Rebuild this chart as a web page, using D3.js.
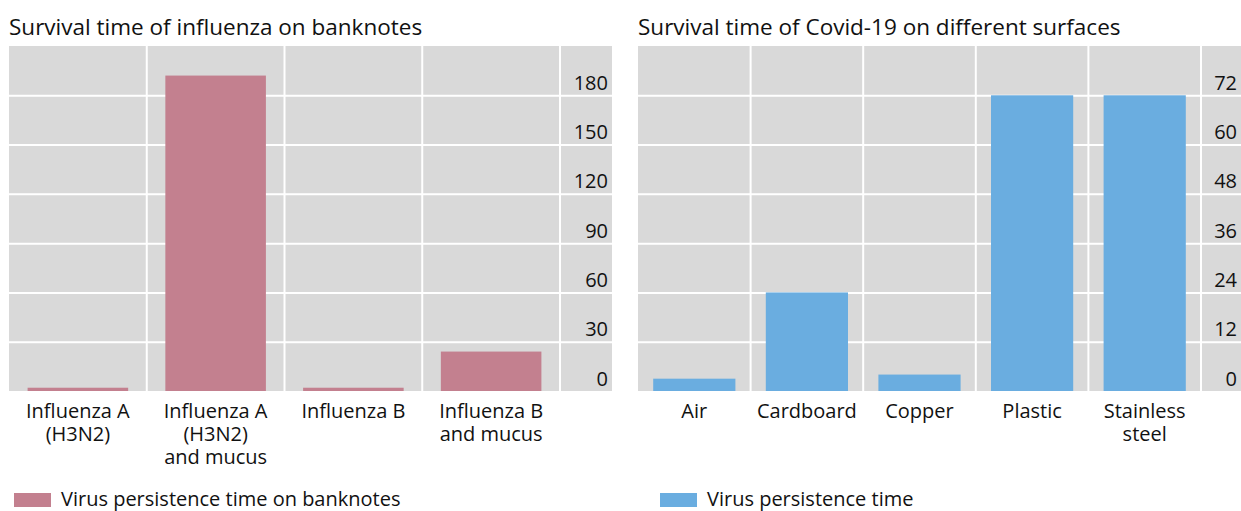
<!DOCTYPE html>
<html>
<head>
<meta charset="utf-8">
<script src="https://cdn.jsdelivr.net/npm/d3@7"></script>
<style>
  body { margin: 0; background: #fff; }
  svg { display: block; font-family: "Open Sans", "Noto Sans", sans-serif; }
</style>
</head>
<body>
<svg id="chart" width="1241" height="511"></svg>
<script>
// data
const fluCategories = ["Influenza A\n(H3N2)", "Influenza A\n(H3N2)\nand mucus", "Influenza B", "Influenza B\nand mucus"];
const fluValues = [2, 192, 2, 24];
const fluTicks = [0, 30, 60, 90, 120, 150, 180];

const covidCategories = ["Air", "Cardboard", "Copper", "Plastic", "Stainless\nsteel"];
const covidValues = [3, 24, 4, 72, 72];
const covidTicks = [0, 12, 24, 36, 48, 60, 72];

const svg = d3.select("#chart");

function drawPanel(cfg) {
    const top = 46, bottom = 391;
    const g = svg.append("g");

    // title
    g.append("text")
        .attr("x", cfg.left)
        .attr("y", 35)
        .attr("font-size", "22.5px")
        .attr("fill", "#111")
        .text(cfg.title);

    // background
    g.append("rect")
        .attr("x", cfg.left)
        .attr("y", top)
        .attr("width", cfg.right - cfg.left)
        .attr("height", bottom - top)
        .attr("fill", "#d9d9d9");

    // scales
    const x = d3.scaleBand()
        .domain(cfg.categories)
        .range([cfg.left, cfg.gridEnd])
        .paddingInner(0.27)
        .paddingOuter(0.135);
    const step = x.step();
    const y = d3.scaleLinear()
        .domain([0, cfg.yMax])
        .range([bottom, top]);

    // horizontal gridlines
    g.append("g")
        .attr("transform", `translate(${cfg.left},0)`)
        .call(d3.axisLeft(y).tickValues(cfg.ticks.slice(1)).tickSize(-(cfg.right - cfg.left)).tickFormat(""))
        .call(a => a.select(".domain").remove())
        .call(a => a.selectAll("line").attr("stroke", "#fff").attr("stroke-width", 2));

    // vertical gridlines between categories
    g.append("g").selectAll("line")
        .data(cfg.categories)
        .join("line")
        .attr("x1", (d, i) => cfg.left + (i + 1) * step)
        .attr("x2", (d, i) => cfg.left + (i + 1) * step)
        .attr("y1", top)
        .attr("y2", bottom)
        .attr("stroke", "#fff")
        .attr("stroke-width", 2);

    // bars
    g.append("g").selectAll("rect")
        .data(cfg.values)
        .join("rect")
        .attr("x", (d, i) => x(cfg.categories[i]))
        .attr("width", x.bandwidth())
        .attr("y", d => y(d))
        .attr("height", d => bottom - y(d))
        .attr("fill", cfg.color);

    // value axis labels inside plot, right side
    g.append("g")
        .attr("transform", `translate(${cfg.right - 4},0)`)
        .call(d3.axisLeft(y).tickValues(cfg.ticks).tickSize(0).tickPadding(0))
        .call(a => a.select(".domain").remove())
        .call(a => a.selectAll("text")
            .attr("dy", "-6")
            .attr("font-family", "'Open Sans', sans-serif")
            .attr("font-size", "20px")
            .attr("fill", "#111"));

    // category labels
    const cat = g.append("g").selectAll("text")
        .data(cfg.categories)
        .join("text")
        .attr("x", d => x(d) + x.bandwidth() / 2)
        .attr("y", 418)
        .attr("text-anchor", "middle")
        .attr("font-size", "20px")
        .attr("fill", "#111");
    cat.selectAll("tspan")
        .data(d => d.split("\n"))
        .join("tspan")
        .attr("x", function() { return d3.select(this.parentNode).attr("x"); })
        .attr("dy", (d, i) => i === 0 ? 0 : 23)
        .text(d => d);

    // legend
    g.append("rect")
        .attr("x", cfg.legendX)
        .attr("y", 493)
        .attr("width", 37)
        .attr("height", 14)
        .attr("fill", cfg.color);
    g.append("text")
        .attr("x", cfg.legendX + 47)
        .attr("y", 506)
        .attr("font-size", "20px")
        .attr("fill", "#111")
        .text(cfg.legend);
}

drawPanel({
    title: "Survival time of influenza on banknotes",
    left: 9, right: 612, gridEnd: 560,
    categories: fluCategories, values: fluValues, ticks: fluTicks, yMax: 210,
    color: "#c3808f",
    legendX: 14, legend: "Virus persistence time on banknotes"
});

drawPanel({
    title: "Survival time of Covid-19 on different surfaces",
    left: 638, right: 1241, gridEnd: 1201,
    categories: covidCategories, values: covidValues, ticks: covidTicks, yMax: 84,
    color: "#6aade0",
    legendX: 660, legend: "Virus persistence time"
});
</script>
</body>
</html>
